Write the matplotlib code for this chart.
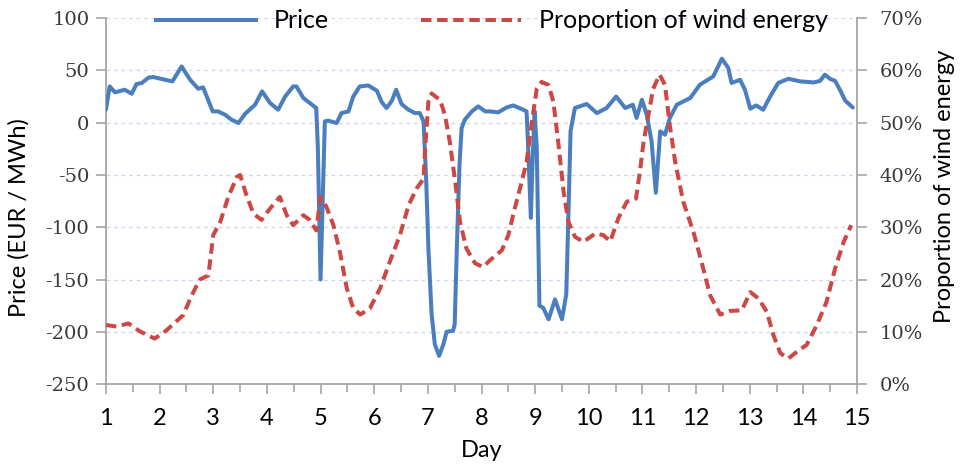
import matplotlib
matplotlib.use("Agg")
import matplotlib.pyplot as plt
from matplotlib.ticker import MultipleLocator
from matplotlib.lines import Line2D

# Electricity price (EUR/MWh) over the two-week period
price_day = [1.00, 1.07, 1.17, 1.35, 1.48, 1.57, 1.67, 1.79, 1.88, 2.19,
             2.24, 2.41, 2.57, 2.72, 2.81, 2.88, 2.99, 3.09, 3.22, 3.34,
             3.47, 3.59, 3.78, 3.91, 4.06, 4.21, 4.34, 4.49, 4.55, 4.68,
             4.80, 4.92, 4.95, 5.00, 5.05, 5.08, 5.14, 5.30, 5.39, 5.52,
             5.61, 5.73, 5.89, 6.05, 6.14, 6.23, 6.33, 6.41, 6.51, 6.64,
             6.76, 6.85, 6.92, 6.97, 7.01, 7.07, 7.13, 7.21, 7.29, 7.35,
             7.47, 7.50, 7.54, 7.59, 7.63, 7.69, 7.82, 7.94, 8.07, 8.16,
             8.31, 8.47, 8.59, 8.78, 8.84, 8.87, 8.92, 8.95, 8.99, 9.03,
             9.08, 9.15, 9.25, 9.37, 9.50, 9.58, 9.62, 9.66, 9.74, 9.96,
             10.15, 10.33, 10.51, 10.68, 10.82, 10.89, 10.99, 11.08, 11.17, 11.25,
             11.33, 11.42, 11.51, 11.64, 11.89, 12.07, 12.32, 12.48, 12.60, 12.66,
             12.82, 12.91, 13.01, 13.12, 13.25, 13.38, 13.53, 13.72, 13.94, 14.19,
             14.31, 14.40, 14.50, 14.59, 14.68, 14.78, 14.92]
price_val = [12.4, 34.7, 29, 31.5, 27.7, 37, 38, 43, 43.7, 40,
             39.5, 53.8, 41, 32.5, 33.8, 25, 10.8, 10.8, 7.6, 2.9,
             -0.3, 8.3, 17.2, 30, 18.8, 12.4, 25, 34.7, 34.7, 23.6,
             18.8, 14, -24, -150, -56, 1.3, 2, -0.3, 9.2, 10.8,
             25, 34.7, 35.6, 30.6, 19.8, 14, 21, 31.5, 17.8, 12.4,
             9.2, 9.2, 1.3, -56, -120, -183, -212, -223, -212, -200,
             -199, -193, -120, -40, -5, 2.9, 10.8, 15.6, 10.8, 10.8,
             9.9, 14.6, 16.5, 12.4, 10.8, -24, -91, -40, 10.8, -24,
             -175, -177, -188, -169, -188, -164, -88, -8, 14, 17.9,
             9.2, 14, 25, 14, 17.2, 4.5, 22, 7.6, -18, -67,
             -8.3, -11.5, 4.5, 17.2, 23.6, 36.3, 44.3, 61.2, 52.3, 38,
             41, 31.5, 13.4, 16.5, 12.4, 25, 38, 42, 39.5, 38.5,
             40, 45.9, 41.8, 40, 31.5, 21, 14.6]

# Share of wind in total generation (%)
wind_day = [1.00, 1.20, 1.42, 1.63, 1.91, 2.13, 2.44, 2.60, 2.75, 2.91,
            3.00, 3.13, 3.28, 3.44, 3.50, 3.62, 3.75, 3.90, 4.06, 4.24,
            4.37, 4.49, 4.68, 4.80, 4.92, 5.00, 5.11, 5.24, 5.36, 5.49,
            5.61, 5.74, 5.92, 6.11, 6.29, 6.48, 6.64, 6.79, 6.92, 6.95,
            7.01, 7.07, 7.23, 7.32, 7.41, 7.51, 7.60, 7.72, 7.88, 8.03,
            8.16, 8.38, 8.50, 8.62, 8.75, 8.84, 8.94, 9.03, 9.12, 9.25,
            9.34, 9.43, 9.53, 9.62, 9.74, 9.90, 10.12, 10.27, 10.40, 10.55,
            10.71, 10.88, 10.96, 11.02, 11.11, 11.20, 11.32, 11.42, 11.51, 11.61,
            11.76, 11.95, 12.10, 12.26, 12.45, 12.63, 12.85, 13.01, 13.16, 13.32,
            13.44, 13.57, 13.72, 13.88, 14.06, 14.25, 14.43, 14.59, 14.75, 14.89]
wind_val = [11.3, 11.0, 11.6, 10.1, 8.7, 10.3, 13.2, 17, 20, 20.8,
            28.5, 31, 35.8, 39.6, 40, 36.1, 32.6, 31.4, 33.6, 35.8,
            32.3, 30.4, 32.3, 31.4, 29.4, 35.8, 33.9, 30.4, 25.3, 18.3,
            14.5, 13.3, 14.5, 18.3, 23.4, 28.5, 34.2, 37.4, 39.3, 45.1,
            54, 55.6, 54.3, 51.4, 46.3, 38.7, 31, 25.9, 23.1, 22.4,
            23.7, 25.6, 28.5, 33.6, 38.7, 42.5, 50.2, 56.5, 57.8, 57.2,
            54, 46.3, 36.8, 31, 28.2, 27.2, 28.8, 28.5, 27.3, 31.7,
            34.9, 35.5, 41.2, 46.3, 51.4, 56.5, 59.2, 57.2, 49.5, 42.5,
            34.9, 29.1, 23.4, 17, 13.3, 14, 14.1, 17.6, 16.4, 13.8,
            9.4, 5.9, 4.9, 6.2, 7.5, 11.3, 15.7, 22.1, 27.2, 30.4]

day_ticks = list(range(1, 16))
price_ticks = [-250, -200, -150, -100, -50, 0, 50, 100]
wind_ticks = [0, 10, 20, 30, 40, 50, 60, 70]

BLUE = "#4A7EBF"
RED = "#CC4844"
AXIS_GRAY = "#A6A6A6"
GRID = "#C9D6EF"
TICK_TXT = "#3A3A3A"
SANS = ["Lato", "DejaVu Sans"]
SERIF = ["DejaVu Serif"]
FS = 17

fig = plt.figure(figsize=(9.63, 4.65), dpi=100)
ax = fig.add_axes([0.110, 0.174, 0.780, 0.787])
ax2 = ax.twinx()

ax.plot(price_day, price_val, color=BLUE, lw=2.9, solid_joinstyle="round",
        solid_capstyle="round", zorder=3)
ax2.plot(wind_day, wind_val, color=RED, lw=2.9, dashes=(2.6, 1.4),
         dash_capstyle="butt", zorder=3)

ax.set_xlim(1, 15)
ax.set_ylim(-250, 100)
ax2.set_ylim(0, 70)

ax.set_xticks(day_ticks)
ax.set_xticklabels([str(d) for d in day_ticks], family=SANS, fontsize=FS, color="black")
ax.xaxis.set_minor_locator(MultipleLocator(0.5))
ax.set_yticks(price_ticks)
ax.set_yticklabels([str(v) for v in price_ticks], family=SERIF, fontsize=14, color=TICK_TXT)
ax2.set_yticks(wind_ticks)
ax2.set_yticklabels([f"{v}%" for v in wind_ticks], family=SERIF, fontsize=14, color=TICK_TXT)

ax.grid(axis="y", color=GRID, lw=0.9, linestyle=(0, (3, 3)), zorder=0)
ax.set_axisbelow(True)

for a in (ax, ax2):
    a.spines["top"].set_visible(False)
    for side in ("left", "right", "bottom"):
        a.spines[side].set_color(AXIS_GRAY)
        a.spines[side].set_linewidth(1.3)
ax.spines["right"].set_visible(False)
ax2.spines["left"].set_visible(False)
ax2.spines["bottom"].set_visible(False)

ax.tick_params(axis="x", which="major", direction="out", length=7, width=1.2,
               color=AXIS_GRAY, pad=10)
ax.tick_params(axis="x", which="minor", direction="out", length=5.5, width=1.2,
               color=AXIS_GRAY)
ax.tick_params(axis="y", direction="out", length=7, width=1.2, color=AXIS_GRAY, pad=5)
ax2.tick_params(axis="y", direction="out", length=7, width=1.2, color=AXIS_GRAY, pad=9)

ax.set_xlabel("Day", family=SANS, fontsize=FS, labelpad=8)
ax.set_ylabel("Price (EUR / MWh)", family=SANS, fontsize=FS)
ax2.set_ylabel("Proportion of wind energy", family=SANS, fontsize=FS)
ax.yaxis.set_label_coords(-0.101, 0.455)
ax2.yaxis.set_label_coords(1.103, 0.54)

handles = [Line2D([], [], color=BLUE, lw=2.9),
           Line2D([], [], color=RED, lw=2.9, dashes=(2.6, 1.4))]
fig.legend(handles, ["Price", "Proportion of wind energy"], ncol=2,
           loc="center", bbox_to_anchor=(0.511, 0.955), frameon=False,
           prop={"family": SANS, "size": 18}, handlelength=4.0,
           handletextpad=0.7, columnspacing=3.7)

fig.savefig("out.png", dpi=100)
